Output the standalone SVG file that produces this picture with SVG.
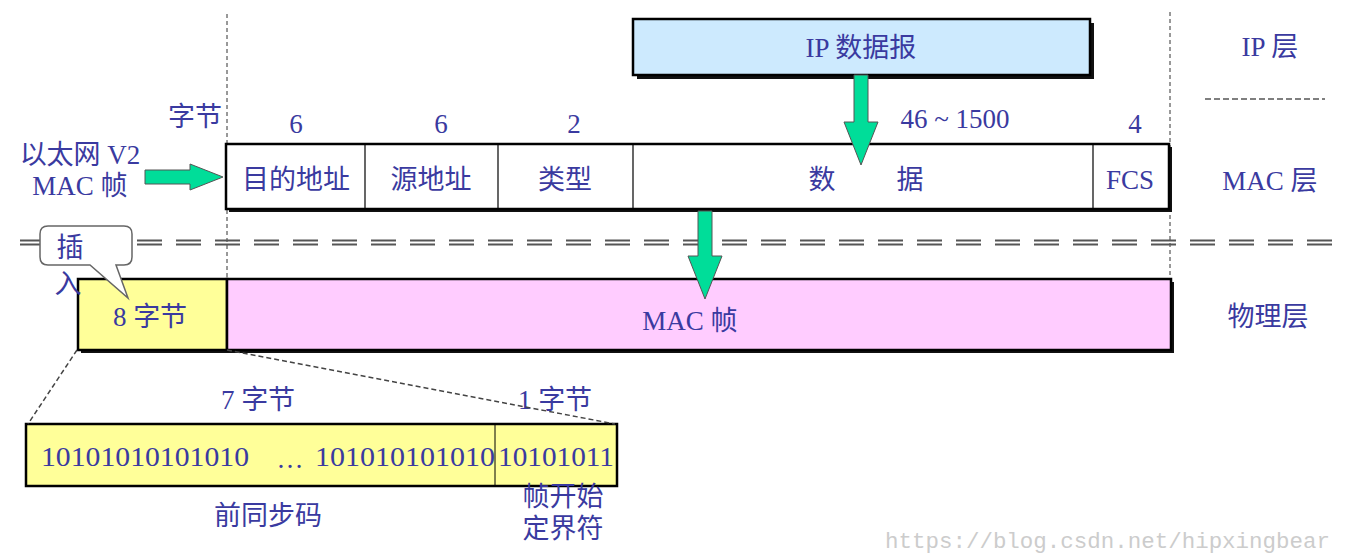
<svg xmlns="http://www.w3.org/2000/svg" width="1345" height="554" viewBox="0 0 1345 554">
<style>
.t{font-family:"Liberation Serif","Noto Sans CJK SC",serif;font-size:27px;fill:#3a3aa0;text-anchor:middle}
.box{stroke:#000;stroke-width:2.5}
.sh{fill:#111}
.div{stroke:#000;stroke-width:1.2}
.vd{stroke:#333;stroke-width:1;stroke-dasharray:4 3;fill:none}
.arrow{fill:#00dd99;stroke:#555;stroke-width:1}
</style>
<rect width="1345" height="554" fill="#fff"/>
<g id="guides">
<line class="vd" x1="227" y1="14" x2="227" y2="280"/>
<line class="vd" x1="1170" y1="12" x2="1170" y2="280"/>
<line x1="1205" y1="99" x2="1325" y2="99" stroke="#555" stroke-width="1.5" stroke-dasharray="6 3"/>
<g stroke="#555" stroke-width="2" stroke-dasharray="25 14">
<line x1="20" y1="240.5" x2="1335" y2="240.5"/>
<line x1="20" y1="244.5" x2="1335" y2="244.5"/>
</g>
</g>
<g id="ip-datagram">
<rect class="sh" x="637" y="23" width="457" height="56"/>
<rect class="box" x="633" y="19" width="457" height="56" fill="#cdeafe"/>
<text class="t" x="861" y="57">IP 数据报</text>
</g>
<g id="mac-frame-fields">
<rect class="sh" x="229" y="147" width="943" height="65"/>
<rect class="box" x="226" y="144" width="943" height="65" fill="#fff"/>
<line class="div" x1="365" y1="144" x2="365" y2="209"/>
<line class="div" x1="498" y1="144" x2="498" y2="209"/>
<line class="div" x1="633" y1="144" x2="633" y2="209"/>
<line class="div" x1="1093" y1="144" x2="1093" y2="209"/>
<text class="t" x="296" y="189">目的地址</text>
<text class="t" x="431" y="189">源地址</text>
<text class="t" x="565" y="189">类型</text>
<text class="t" x="822" y="189">数</text>
<text class="t" x="910" y="189">据</text>
<text class="t" x="1130" y="189">FCS</text>
<text class="t" x="195" y="126">字节</text>
<text class="t" x="296" y="133">6</text>
<text class="t" x="441" y="133">6</text>
<text class="t" x="574" y="133">2</text>
<text class="t" x="955" y="128">46 ~ 1500</text>
<text class="t" x="1135" y="133">4</text>
</g>
<g id="v2-label">
<text class="t" x="80" y="164">以太网 V2</text>
<text class="t" x="80" y="195">MAC 帧</text>
</g>
<g id="layer-labels">
<text class="t" x="1270" y="56">IP 层</text>
<text class="t" x="1270" y="190">MAC 层</text>
<text class="t" x="1268" y="326">物理层</text>
</g>
<g id="physical-frame">
<rect class="sh" x="81" y="282" width="1093" height="71"/>
<rect class="box" x="78" y="279" width="149" height="71" fill="#ffff99"/>
<rect class="box" x="227" y="279" width="944" height="71" fill="#ffccff"/>
<text class="t" x="150" y="326">8 字节</text>
<text class="t" x="690" y="330">MAC 帧</text>
</g>
<g id="insert-bubble">
<path d="M48 226 H124 Q132 226 132 234 V257 Q132 265 124 265 H116 L128 298 L90 265 H48 Q40 265 40 257 V234 Q40 226 48 226 Z" fill="#fff" stroke="#666" stroke-width="1.5"/>
<text class="t" x="70" y="257">插</text>
<text class="t" x="68" y="293">入</text>
</g>
<g id="preamble">
<rect class="box" x="26" y="424" width="591" height="62" fill="#ffff99"/>
<line stroke="#000" stroke-width="1" x1="495" y1="424" x2="495" y2="486"/>
<text class="t" x="258" y="409">7 字节</text>
<text class="t" x="555" y="409">1 字节</text>
<text class="t" x="145" y="466" textLength="208" lengthAdjust="spacingAndGlyphs">10101010101010</text>
<text class="t" x="290" y="468">…</text>
<text class="t" x="405" y="466" textLength="180" lengthAdjust="spacingAndGlyphs">101010101010</text>
<text class="t" x="556" y="466" textLength="116" lengthAdjust="spacingAndGlyphs">10101011</text>
<text class="t" x="268" y="525">前同步码</text>
<text class="t" x="563" y="506">帧开始</text>
<text class="t" x="563" y="538">定界符</text>
</g>
<g id="connectors">
<polygon class="arrow" points="854,75 868,75 868,122 878,122 861,165 844,122 854,122"/>
<polygon class="arrow" points="698,211 712,211 712,256 722,256 705,299 688,256 698,256"/>
<polygon class="arrow" points="145,170 190,170 190,164 223,177 190,190 190,184 145,184"/>
<line x1="77" y1="350" x2="28" y2="424" stroke="#444" stroke-width="1.5" stroke-dasharray="5 3"/>
<line x1="227" y1="350" x2="615" y2="424" stroke="#444" stroke-width="1.5" stroke-dasharray="5 3"/>
</g>
<text x="885" y="548" font-family="Liberation Mono, monospace" font-size="22" fill="#ccc" textLength="445" lengthAdjust="spacingAndGlyphs">https://blog.csdn.net/hipxingbear</text>
</svg>
